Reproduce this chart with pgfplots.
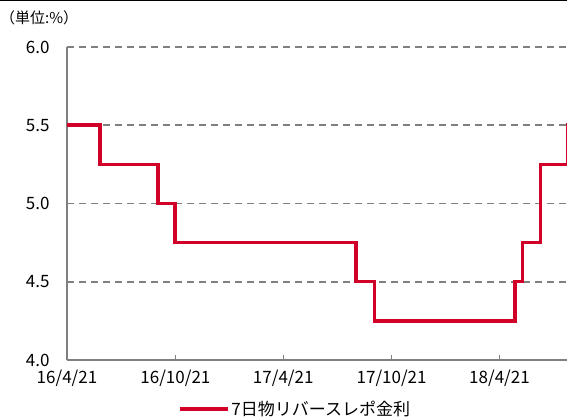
\documentclass[border=0pt]{standalone}
\usepackage{pgfplots}
\pgfplotsset{compat=1.18}
\usepackage{fontspec}
\setmainfont{Noto Sans CJK JP}
\definecolor{lineRed}{RGB}{208,0,40}
\definecolor{gridGray}{RGB}{128,128,128}
\begin{document}
\begin{tikzpicture}
\useasboundingbox (0,0) rectangle (567bp,420bp);
\draw[black, line width=1.5bp] (0,419.5bp) -- (567bp,419.5bp);
\node[anchor=west, font=\fontsize{15bp}{17bp}\selectfont, inner sep=0pt] at (0bp,402bp) {（単位:\%）};
\begin{axis}[
  at={(67bp,60bp)}, anchor=origin,
  scale only axis, width=500bp, height=313bp,
  xmin=0, xmax=844, ymin=4.0, ymax=6.0,
  axis x line*=bottom, axis y line*=left,
  axis line style={gridGray, line width=1.8bp, -},
  xtick={0,183,365,548,730},
  xticklabels={16/4/21,16/10/21,17/4/21,17/10/21,18/4/21},
  ytick={4.0,4.5,5.0,5.5,6.0},
  yticklabels={4.0,4.5,5.0,5.5,6.0},
  ymajorgrids,
  grid style={gridGray, line width=1.6bp, dash pattern=on 7bp off 5bp},
  tick align=inside,
  xtick style={gridGray, line width=1.4bp},
  major tick length=5bp,
  ytick style={draw=none},
  tick label style={font=\fontsize{17bp}{19bp}\selectfont},
  /pgf/number format/assume math mode=true,
  xticklabel style={yshift=-6bp},
  yticklabel style={xshift=-14bp},
  clip=true,
  legend style={at={(axis description cs:0.456,-0.157)}, anchor=center, draw=none, fill=none,
    font=\fontsize{17bp}{19bp}\selectfont, inner sep=0pt},
  legend image code/.code={\draw[#1] (0bp,0bp) -- (48bp,0bp);},
]
\addplot[const plot, lineRed, line width=3.5bp] coordinates {
(0,5.5)(56,5.25)(154,5.0)(182,4.75)(488,4.5)(519,4.25)(756,4.5)(769,4.75)(799,5.25)(846,5.5)(870,5.5)
};
\addlegendentry{7日物リバースレポ金利}
\end{axis}
\end{tikzpicture}
\end{document}
